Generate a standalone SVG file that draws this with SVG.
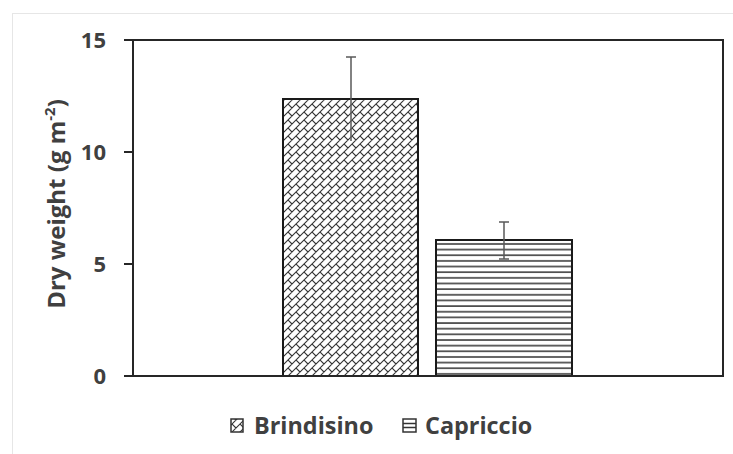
<svg xmlns="http://www.w3.org/2000/svg" width="733" height="454" viewBox="0 0 733 454">
<style>
.t{font-family:"Open Sans","Noto Sans",sans-serif;font-weight:700;fill:#404040}
.tick{font-size:22px;text-anchor:end}
.ax{stroke:#262626;stroke-width:2;fill:none}
.bar{stroke:#1a1a1a;stroke-width:2}
.err{stroke:#595959;stroke-width:1.5;fill:none}
</style>
<defs>
<pattern id="brick" width="8" height="8" patternUnits="userSpaceOnUse">
<rect width="8" height="8" fill="#fff"/>
<path d="M-1,9 L9,-1 M-1,1 L1,-1 M7,9 L9,7 M0,0 L4,4" stroke="#333" stroke-width="1.1" fill="none"/>
</pattern>
<pattern id="horiz" width="8" height="5.65" patternUnits="userSpaceOnUse">
<rect width="8" height="5.65" fill="#fff"/>
<path d="M0,1 L8,1" stroke="#222" stroke-width="1.4"/>
</pattern>
</defs>
<rect width="733" height="454" fill="#fff"/>
<rect x="12.5" y="13.5" width="730" height="450" fill="none" stroke="#e6e6e6" stroke-width="1"/>
<g id="bars">
<g id="bar-brindisino">
<rect class="bar" x="283" y="99" width="135" height="277" fill="url(#brick)"/>
<path class="err" d="M351,57 V141 M346,57 H356"/>
</g>
<g id="bar-capriccio">
<rect class="bar" x="436" y="240" width="136" height="136" fill="url(#horiz)"/>
<path class="err" d="M504,222 V259 M499,222 H509 M499,259 H509"/>
</g>
</g>
<g id="axes">
<path class="ax" d="M133,40 H723 V376 H133 Z"/>
<path class="ax" d="M124,40 H133 M124,152 H133 M124,264 H133 M124,376 H133"/>
</g>
<g id="ticks">
<text class="t tick" x="106" y="48">15</text>
<text class="t tick" x="106" y="160">10</text>
<text class="t tick" x="106" y="272">5</text>
<text class="t tick" x="106" y="384">0</text>
</g>
<g id="ytitle">
<text class="t" font-size="24" text-anchor="middle" transform="translate(65,204) rotate(-90)">Dry weight (g m<tspan font-size="15" dy="-10">-2</tspan><tspan dy="10">)</tspan></text>
</g>
<g id="legend">
<g id="legend-brindisino">
<rect x="231" y="419" width="12" height="13" fill="url(#brick)" stroke="#333" stroke-width="1.5"/>
<text class="t" x="254" y="434" font-size="23.4">Brindisino</text>
</g>
<g id="legend-capriccio">
<rect x="403" y="419" width="13" height="13" fill="#fff" stroke="#333" stroke-width="1.5"/>
<path d="M403,423.5 H416 M403,427.5 H416" stroke="#333" stroke-width="1.5"/>
<text class="t" x="425" y="434" font-size="23.4">Capriccio</text>
</g>
</g>
</svg>
